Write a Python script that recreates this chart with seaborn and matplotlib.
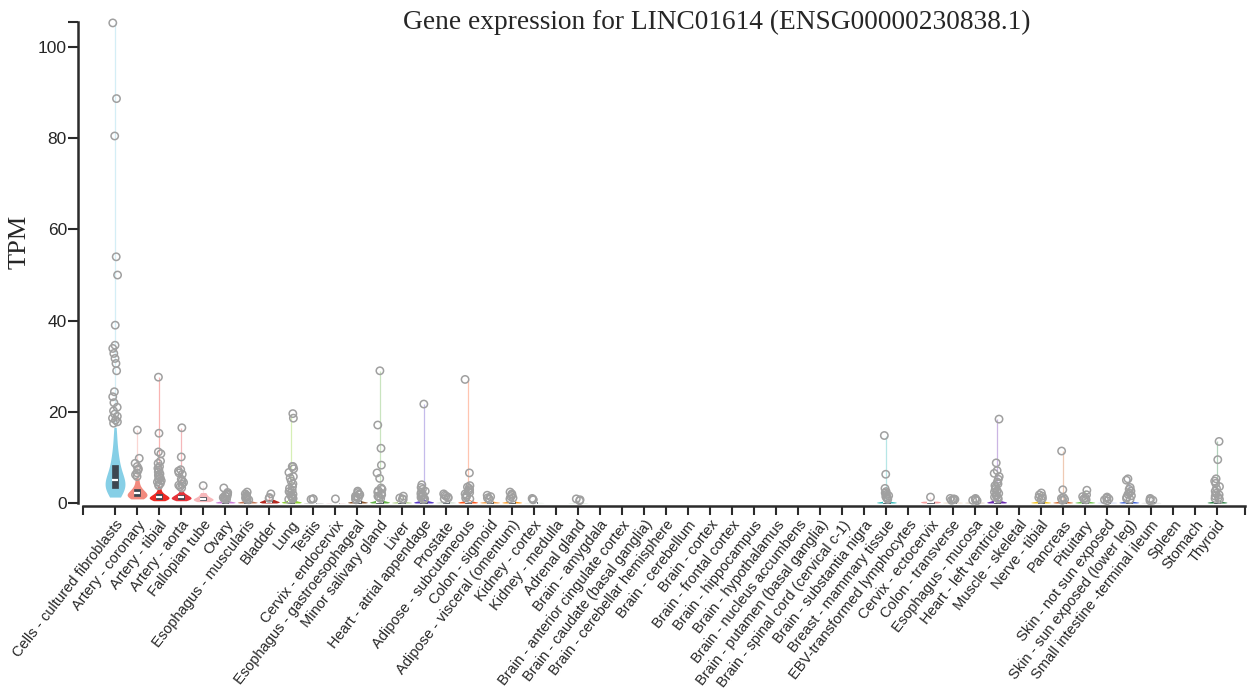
import numpy as np
import pandas as pd
import matplotlib
matplotlib.use("Agg")
import matplotlib.pyplot as plt
import seaborn as sns

# Tissues in plotting order
tissues = [
    "Cells - cultured fibroblasts", "Artery - coronary", "Artery - tibial", "Artery - aorta",
    "Fallopian tube", "Ovary", "Esophagus - muscularis", "Bladder", "Lung", "Testis",
    "Cervix - endocervix", "Esophagus - gastroesophageal", "Minor salivary gland", "Liver",
    "Heart - atrial appendage", "Prostate", "Adipose - subcutaneous", "Colon - sigmoid",
    "Adipose - visceral (omentum)", "Kidney - cortex", "Kidney - medulla", "Adrenal gland",
    "Brain - amygdala", "Brain - anterior cingulate cortex", "Brain - caudate (basal ganglia)",
    "Brain - cerebellar hemisphere", "Brain - cerebellum", "Brain - cortex", "Brain - frontal cortex",
    "Brain - hippocampus", "Brain - hypothalamus", "Brain - nucleus accumbens",
    "Brain - putamen (basal ganglia)", "Brain - spinal cord (cervical c-1)", "Brain - substantia nigra",
    "Breast - mammary tissue", "EBV-transformed lymphocytes", "Cervix - ectocervix",
    "Colon - transverse", "Esophagus - mucosa", "Heart - left ventricle", "Muscle - skeletal",
    "Nerve - tibial", "Pancreas", "Pituitary", "Skin - not sun exposed",
    "Skin - sun exposed (lower leg)", "Small intestine -terminal ileum", "Spleen", "Stomach", "Thyroid",
]

tissue_colors = [
    "#86CFE6", "#F28A7E", "#EE2A24", "#E5333A", "#F7B7BA", "#CC80D9", "#C47A5A", "#B5281E",
    "#8CD22E", "#BBBBBB", "#F3D9DC", "#8E5A33", "#66B34A", "#A9CB7D", "#5A3CC8", "#CDDBCD",
    "#FF5A1E", "#F5A04A", "#FF9A1A", "#E3EFE3", "#E3EFE3", "#D5E8D5",
    "#E8E8B0", "#E8E8B0", "#E8E8B0", "#E8E8B0", "#E8E8B0", "#E8E8B0", "#E8E8B0",
    "#E8E8B0", "#E8E8B0", "#E8E8B0", "#E8E8B0", "#E8E8B0", "#E8E8B0",
    "#2EB8B8", "#EE82EE", "#F5A3A3", "#EED9C4", "#D9C8B4", "#6A2CB0", "#7A67EE",
    "#F2C21E", "#D2692A", "#6CC24A", "#C8D2F0", "#3A5FD9", "#D8D8D8", "#CDB79E", "#FFD39B", "#1F7A3A",
]

# Typical (non-outlier) TPM values per tissue
bulk_values = [
    [1.3, 1.7, 2.0, 2.3, 2.6, 2.8, 3.0, 3.1, 3.3, 3.4, 3.6, 3.8, 4.0, 4.2, 4.4, 4.6, 4.8, 5.0,
     5.3, 5.5, 5.8, 6.1, 6.4, 6.8, 7.2, 7.7, 8.3, 8.8, 9.3, 9.9, 10.6, 11.4, 12.4, 13.7, 15.1, 16.6],
    [0.9, 1.0, 1.1, 1.2, 1.3, 1.4, 1.5, 1.6, 1.7, 1.8, 1.9, 2.0, 2.1, 2.2, 2.3, 2.4, 2.6, 2.8,
     3.0, 3.2, 3.5, 3.9, 4.4, 5.0, 5.5],
    [0.5, 0.6, 0.7, 0.75, 0.8, 0.85, 0.9, 1.0, 1.05, 1.1, 1.2, 1.25, 1.3, 1.35, 1.4, 1.5, 1.6,
     1.7, 1.8, 1.9, 2.0, 2.2, 2.5, 2.8, 3.2, 3.6],
    [0.5, 0.6, 0.7, 0.8, 0.85, 0.9, 1.0, 1.05, 1.1, 1.2, 1.25, 1.3, 1.4, 1.5, 1.6, 1.7, 1.8,
     1.9, 2.1, 2.4, 2.8],
    [0.3, 0.5, 0.6, 0.7, 0.8, 0.9, 1.0, 1.2, 1.5, 1.9, 2.3],
    [0.0, 0.05, 0.1, 0.15, 0.2, 0.3, 0.45, 0.7],
    [0.0, 0.05, 0.1, 0.15, 0.2, 0.3, 0.45, 0.65],
    [0.0, 0.1, 0.2, 0.3, 0.4, 0.6, 0.8],
    [0.0, 0.05, 0.1, 0.15, 0.2, 0.3, 0.4, 0.55, 0.8],
    [0.0, 0.02, 0.05, 0.08, 0.1],
    [0.0, 0.05, 0.1],
    [0.0, 0.05, 0.1, 0.15, 0.2, 0.3, 0.45, 0.65],
    [0.0, 0.05, 0.1, 0.15, 0.2, 0.3, 0.4, 0.55, 0.8],
    [0.0, 0.05, 0.1, 0.15, 0.2, 0.3],
    [0.0, 0.05, 0.1, 0.2, 0.3, 0.45, 0.8],
    [0.0, 0.05, 0.1, 0.15, 0.2, 0.3],
    [0.0, 0.05, 0.1, 0.15, 0.2, 0.3, 0.45, 0.7],
    [0.0, 0.05, 0.1, 0.15, 0.2, 0.3, 0.5],
    [0.0, 0.05, 0.1, 0.15, 0.2, 0.3, 0.5],
    [0.0, 0.05, 0.1, 0.15],
    [],
    [0.0, 0.05, 0.1],
    [], [], [], [], [], [], [], [], [], [], [], [], [],
    [0.0, 0.05, 0.1, 0.15, 0.2, 0.3, 0.5],
    [],
    [0.0, 0.1, 0.2, 0.3, 0.4],
    [0.0, 0.05, 0.1, 0.15, 0.2],
    [0.0, 0.05, 0.1, 0.15, 0.2],
    [0.0, 0.05, 0.1, 0.2, 0.3, 0.45, 0.7],
    [],
    [0.0, 0.05, 0.1, 0.15, 0.2, 0.3, 0.45],
    [0.0, 0.05, 0.1, 0.15, 0.2, 0.3, 0.45],
    [0.0, 0.05, 0.1, 0.15, 0.2, 0.3, 0.45],
    [0.0, 0.05, 0.1, 0.15, 0.2],
    [0.0, 0.05, 0.1, 0.15, 0.2, 0.3, 0.5],
    [0.0, 0.05, 0.1, 0.15],
    [], [],
    [0.0, 0.05, 0.1, 0.15, 0.2, 0.3, 0.5],
]

# Outlying samples per tissue (drawn as open circles)
outlier_values = [
    [105.3, 88.7, 80.5, 54.0, 50.0, 39.0, 34.6, 33.9, 32.8, 31.7, 30.6, 29.0, 24.4, 23.3,
     22.0, 21.0, 20.2, 19.5, 19.0, 18.6, 18.2, 17.8, 17.5],
    [16.0, 9.8, 8.7, 8.0, 7.5, 7.2, 6.6, 6.2, 5.8],
    [27.6, 15.3, 11.2, 10.8, 9.2, 8.7, 8.0, 7.6, 7.2, 6.8, 6.4, 6.1, 5.8, 5.5, 5.2, 4.9, 4.6,
     4.3, 4.0, 3.8],
    [16.5, 10.1, 7.3, 7.0, 6.6, 6.3, 5.2, 4.9, 4.5, 4.1, 3.9, 3.6, 3.3],
    [3.8],
    [3.3, 2.3, 2.0, 1.8, 1.6, 1.4, 1.2, 1.0, 0.9, 0.8],
    [2.4, 2.0, 1.7, 1.5, 1.3, 1.1, 0.9, 0.8, 0.7],
    [2.0, 1.2, 1.0],
    [19.6, 18.6, 8.0, 8.0, 7.5, 6.7, 5.8, 5.5, 4.8, 4.2, 3.6, 3.2, 2.8, 2.5, 2.2, 1.9, 1.6,
     1.4, 1.2, 1.0, 0.9, 0.8],
    [0.9, 0.9, 0.8],
    [0.9],
    [2.6, 2.3, 2.0, 1.8, 1.5, 1.3, 1.1, 0.9, 0.7],
    [29.0, 17.1, 12.0, 8.3, 6.6, 5.4, 3.3, 3.0, 2.7, 2.4, 2.1, 1.8, 1.5, 1.2, 1.0],
    [1.5, 1.1, 0.9, 0.8],
    [21.7, 4.0, 3.4, 3.0, 2.6, 2.3, 2.0, 1.8, 1.6, 1.4, 1.2, 1.0, 0.9, 0.8],
    [2.0, 1.7, 1.5, 1.3, 1.1, 0.9],
    [27.1, 6.6, 3.8, 3.5, 3.2, 2.9, 2.6, 2.3, 2.0, 1.7, 1.4, 1.1, 0.9],
    [1.7, 1.4, 1.1, 0.9, 0.8],
    [2.4, 2.0, 1.7, 1.4, 1.1, 0.9],
    [1.0, 0.8, 0.7],
    [],
    [0.9, 0.7, 0.5],
    [], [], [], [], [], [], [], [], [], [], [], [], [],
    [14.8, 6.3, 3.2, 2.5, 2.2, 1.9, 1.6, 1.4, 1.2, 1.0, 0.8],
    [],
    [1.3],
    [1.0, 0.9, 0.8, 0.7, 0.6],
    [1.0, 0.8, 0.7, 0.6, 0.5],
    [18.4, 8.8, 7.1, 6.5, 5.8, 5.2, 4.6, 4.2, 3.8, 3.4, 3.0, 2.7, 2.4, 2.1, 1.8, 1.5, 1.3,
     1.1, 0.9],
    [],
    [2.2, 1.8, 1.5, 1.2, 1.0, 0.8],
    [11.4, 2.9, 1.2, 1.0, 0.8, 0.6],
    [2.8, 1.8, 1.4, 1.1, 0.9, 0.7],
    [1.3, 1.1, 0.9, 0.7, 0.5],
    [5.3, 5.0, 3.4, 3.0, 2.6, 2.2, 1.9, 1.6, 1.3, 1.0, 0.8],
    [1.0, 0.8, 0.6, 0.5],
    [], [],
    [13.5, 9.5, 5.3, 4.8, 4.3, 3.6, 3.2, 2.6, 2.1, 1.8, 1.5, 1.2, 1.0, 0.8],
]

y_ticks = [0, 20, 40, 60, 80, 100]
title_text = "Gene expression for LINC01614 (ENSG00000230838.1)"

# ---- long-form tables ----
bulk_df = pd.DataFrame(
    [(t, v) for t, vals in zip(tissues, bulk_values) for v in vals], columns=["tissue", "tpm"]
)
out_df = pd.DataFrame(
    [(t, v) for t, vals in zip(tissues, outlier_values) for v in vals], columns=["tissue", "tpm"]
)
palette = dict(zip(tissues, tissue_colors))

sns.set_style("ticks")
plt.rcParams["font.family"] = ["Liberation Sans", "DejaVu Sans"]

fig = plt.figure(figsize=(12.5, 6.99), dpi=100)
ax = fig.add_axes([78 / 1250, 193 / 699, 1167 / 1250, 484 / 699])

sns.violinplot(
    data=bulk_df, x="tissue", y="tpm", hue="tissue", order=tissues, hue_order=tissues,
    palette=palette, legend=False, cut=0, inner=None, density_norm="width",
    width=0.9, linewidth=0, saturation=1, ax=ax,
)

# faint tail from the violin top up to the highest sample
for i, (b, o, c) in enumerate(zip(bulk_values, outlier_values, tissue_colors)):
    if b and o and max(o) > max(b):
        ax.vlines(i, max(b), max(o), color=c, linewidth=0.9, alpha=0.35, zorder=1)

sns.boxplot(
    data=bulk_df, x="tissue", y="tpm", order=tissues, width=0.28,
    color="#3D4751", linecolor="#3D4751", saturation=1, showfliers=False,
    showcaps=False, whis=0, linewidth=0.5,
    whiskerprops={"linewidth": 0}, medianprops={"color": "white", "linewidth": 1.6},
    ax=ax,
)

np.random.seed(7)
n_before = len(ax.collections)
sns.stripplot(
    data=out_df, x="tissue", y="tpm", order=tissues, jitter=0.12, size=5.3,
    color="#A0A0A0", edgecolor="#A0A0A0", linewidth=1.1, ax=ax, zorder=4,
)
for coll in ax.collections[n_before:]:
    coll.set_facecolor("none")
    coll.set_edgecolor("#A0A0A0")
    offs = np.asarray(coll.get_offsets())
    if offs.size and np.isfinite(offs).all():
        coll.set_clip_on(False)

# ---- axes styling ----
x_lo, x_hi = -1.68, 51.27
ax.set_xlim(x_lo, x_hi)
ax.set_ylim(-0.66, 105.5)
sns.despine(ax=ax)
ax.spines["left"].set_bounds(0, 105.5)
ax.spines["bottom"].set_bounds(-1.45, x_hi)
for side in ("left", "bottom"):
    ax.spines[side].set_linewidth(1.8)
    ax.spines[side].set_color("#2B2B2B")

ax.set_yticks(y_ticks + [105.5], [str(v) for v in y_ticks] + [""])
ax.set_xticks([-1.45] + list(range(len(tissues))) + [x_hi], [""] + tissues + [""])
ax.tick_params(axis="y", length=7, width=1.5, color="#2B2B2B", labelsize=12.5, pad=1)
ax.tick_params(axis="x", length=6.5, width=1.5, color="#2B2B2B", labelsize=10.5, pad=2)
for lab in ax.get_xticklabels():
    lab.set_rotation(52)
    lab.set_ha("right")
    lab.set_va("top")
    lab.set_rotation_mode("anchor")

ax.set_xlabel("")
ax.set_ylabel("TPM", fontfamily="Liberation Serif", fontsize=19)
ax.yaxis.set_label_coords(-0.041, 0.545)

fig.text(717 / 1250, 1 - 22 / 699, title_text, ha="center", va="center",
         fontfamily="Liberation Serif", fontsize=19.7)

fig.savefig("out.png", dpi=100)
